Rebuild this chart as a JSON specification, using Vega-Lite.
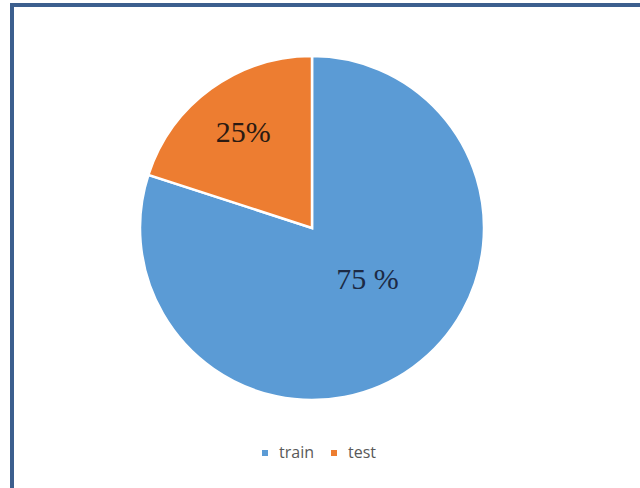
{
  "$schema": "https://vega.github.io/schema/vega-lite/v6.json",
  "autosize": {"type": "none"},
  "width": 636,
  "height": 490,
  "padding": {"left": 12, "top": 5, "right": 0, "bottom": 0},
  "background": "white",
  "view": {"stroke": "#3C5F8E", "strokeWidth": 4},
  "data": {"values": [
    {"split": "train", "share": 80, "label": "75 %", "order": 1},
    {"split": "test", "share": 20, "label": "25%", "order": 2}
  ]},
  "encoding": {
    "theta": {"field": "share", "type": "quantitative", "stack": true},
    "order": {"field": "order", "type": "quantitative"}
  },
  "layer": [
    {
      "mark": {"type": "arc", "outerRadius": 172, "stroke": "white", "strokeWidth": 2.5,
               "x": {"expr": "width/2 - 18"}, "y": {"expr": "height/2 - 22"}},
      "encoding": {
        "color": {"field": "split", "type": "nominal",
                  "scale": {"domain": ["train", "test"], "range": ["#5B9BD5", "#ED7D31"]},
                  "legend": {"title": null, "orient": "none", "direction": "horizontal",
                             "legendX": 245, "legendY": 440, "symbolType": "square", "symbolSize": 36,
                             "symbolStrokeWidth": 0, "labelFont": "Open Sans", "labelFontSize": 16,
                             "labelColor": "#595959", "labelOffset": 6, "columnPadding": 12}}
      }
    },
    {
      "mark": {"type": "text", "font": "Liberation Serif", "fontSize": 30, "radius": 117, "color": "#2B1A12",
               "x": {"expr": "width/2 - 18"}, "y": {"expr": "height/2 - 22"}},
      "encoding": {
        "text": {"condition": {"test": "datum.split == 'test'", "field": "label"}, "value": ""}
      }
    },
    {
      "mark": {"type": "text", "font": "Liberation Serif", "fontSize": 30, "radius": 76, "thetaOffset": -0.19, "color": "#1C2A45",
               "x": {"expr": "width/2 - 18"}, "y": {"expr": "height/2 - 22"}},
      "encoding": {
        "text": {"condition": {"test": "datum.split == 'train'", "field": "label"}, "value": ""}
      }
    }
  ]
}
